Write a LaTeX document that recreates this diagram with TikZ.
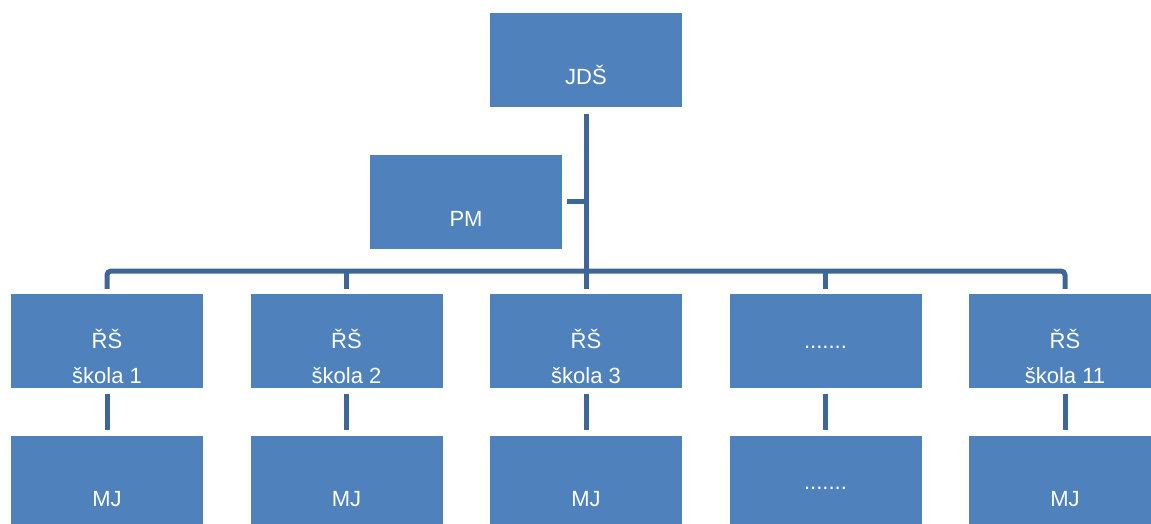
\documentclass[tikz,border=0pt]{standalone}
\usepackage{fontspec}
\setmainfont{Liberation Sans}
\definecolor{boxblue}{HTML}{4F81BD}
\definecolor{linkblue}{HTML}{3E6697}
\begin{document}
\begin{tikzpicture}[x=1pt,y=-1pt,
  box/.style={fill=boxblue, draw=none, minimum width=192pt, minimum height=94pt, inner sep=0pt},
  txt/.style={text=white, font=\fontsize{22}{26}\selectfont, anchor=base, inner sep=0pt},
  conn/.style={draw=linkblue, line width=5pt},
  gap/.style={shorten <=#1, shorten >=#1}]
\clip (0,0) rectangle (1151,523);

% top level
\node[box] (jds) at (586,60.3) {};
\node[txt] (jdst) at ([yshift=-24pt]jds.center) {JDŠ};
\node[box] (pm) at (466,201.5) {};
\node[txt] (pmt) at ([yshift=-24.5pt]pm.center) {PM};

% schools and their MJ boxes
\foreach \i/\x/\name in {1/107/škola 1, 2/346.5/škola 2, 3/586/škola 3, 5/1065/škola 11}{
  \node[box] (r\i) at (\x,341) {};
  \node[txt] (r\i a) at ([yshift=-7.3pt]r\i.center) {ŘŠ};
  \node[txt] (r\i b) at ([yshift=-42.3pt]r\i.center) {\name};
  \node[box] (m\i) at (\x,483) {};
  \node[txt] (m\i t) at ([yshift=-23pt]m\i.center) {MJ};
}
\node[box] (r4) at (825.5,341) {};
\node[txt] (r4a) at ([yshift=-7pt]r4.center) {.......};
\node[box] (m4) at (825.5,483) {};
\node[txt] (m4t) at ([yshift=-6.5pt]m4.center) {.......};

% connectors
\coordinate (bar) at (586,271);
\draw[conn, shorten <=6pt] (jds.south) -- (jds.south |- bar);
\draw[conn, shorten <=5pt] (pm.east) -- (pm.east -| jds.south);
\draw[conn, rounded corners=4pt] ([yshift=5pt]r1.north) |- (bar) -| ([yshift=5pt]r5.north);
\foreach \i in {2,3,4}{
  \draw[conn, shorten >=5pt] (r\i.north |- bar) -- (r\i.north);
}
\foreach \i in {1,...,5}{
  \draw[conn, gap=5.5pt] (r\i.south) -- (m\i.north);
}
\end{tikzpicture}
\end{document}
